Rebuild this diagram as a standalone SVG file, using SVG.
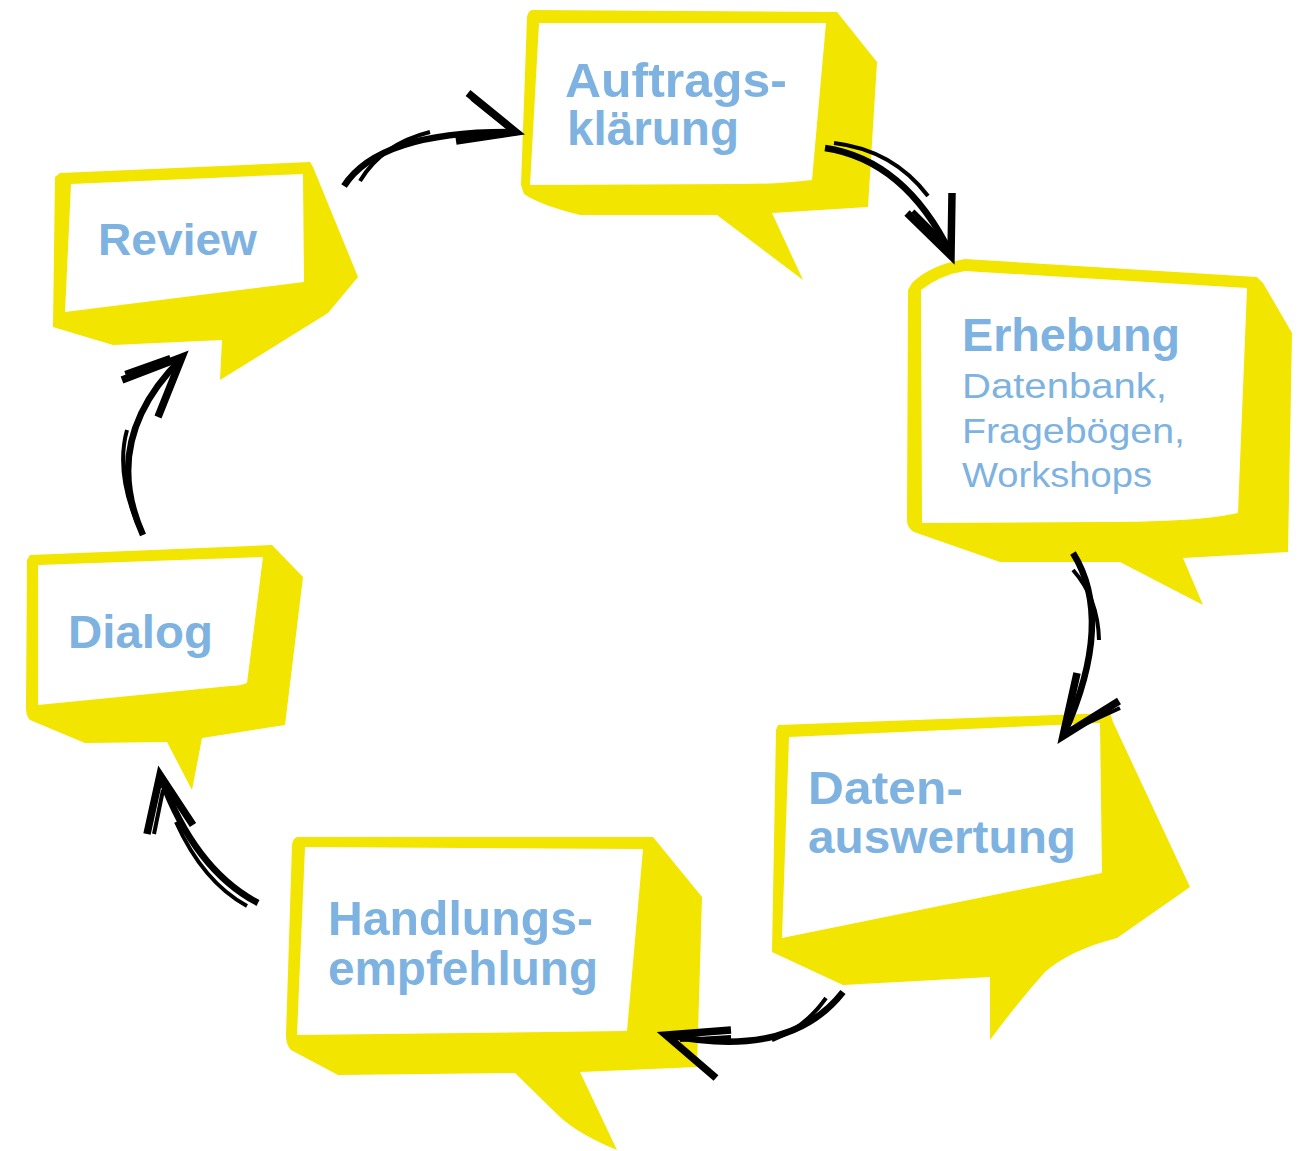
<svg xmlns="http://www.w3.org/2000/svg" width="1307" height="1151" viewBox="0 0 1307 1151">
<style>
.bub{fill:#F2E500}
.win{fill:#ffffff}
.t{font-family:"Liberation Sans",Arial,sans-serif;fill:#7EB2E0;font-weight:bold}
.r{font-weight:normal}
.ln{fill:none;stroke:#000;stroke-width:6.5;stroke-linecap:butt}
.ln2{fill:none;stroke:#000;stroke-width:4}
.hd{fill:none;stroke:#000;stroke-width:7.5;stroke-linejoin:miter;stroke-miterlimit:10}
.hd2{fill:none;stroke:#000;stroke-width:4}
</style>
<rect width="1307" height="1151" fill="#fff"/>
<g id="node-auftrag">
<path class="bub" d="M532,10 L837,12 L841,17 L877,62 L868,207 L772,213 L803,280 L717,215 L580,215 Q540,205 524,194 L521,185 L527,17 Q528,11 532,10 Z"/>
<path class="win" d="M539,23 L826,23 L812,180 Q780,184 740,184 L530,185 Z"/>
<text class="t" font-size="48"><tspan x="565" y="97" textLength="222" lengthAdjust="spacingAndGlyphs">Auftrags-</tspan><tspan x="567" y="145" textLength="172" lengthAdjust="spacingAndGlyphs">klärung</tspan></text>
</g>
<g id="node-erhebung">
<path class="bub" d="M912,283 Q930,265 965,259 L1257,277 L1263,283 L1292,333 L1288,552 L1183,558 L1203,605 L1120,562 L1000,562 L914,532 Q907,528 907,520 L908,290 Z"/>
<path class="win" d="M921,290 Q940,275 965,271 L1247,288 L1238,513 Q1200,522 1100,522 L922,523 Z"/>
<text class="t"><tspan x="962" y="351" font-size="47" textLength="218" lengthAdjust="spacingAndGlyphs">Erhebung</tspan><tspan class="r" x="962" y="398" font-size="35" textLength="205" lengthAdjust="spacingAndGlyphs">Datenbank,</tspan><tspan class="r" x="962" y="443" font-size="35" textLength="223" lengthAdjust="spacingAndGlyphs">Fragebögen,</tspan><tspan class="r" x="962" y="487" font-size="35" textLength="190" lengthAdjust="spacingAndGlyphs">Workshops</tspan></text>
</g>
<g id="node-daten">
<path class="bub" d="M778,725 L1110,713 L1113,722 L1190,887 L1117,938 Q1070,950 1045,972 Q1018,1002 990,1040 L990,977 L843,985 L772,952 L776,730 Z"/>
<path class="win" d="M789,737 L1100,723 L1102,873 L782,938 Z"/>
<text class="t" font-size="47"><tspan x="808" y="804" textLength="155" lengthAdjust="spacingAndGlyphs">Daten-</tspan><tspan x="808" y="853" textLength="268" lengthAdjust="spacingAndGlyphs">auswertung</tspan></text>
</g>
<g id="node-handlung">
<path class="bub" d="M297,837 L653,837 L702,897 L697,1067 L580,1072 L617,1150 Q580,1135 560,1117 L515,1073 L338,1075 L291,1050 Q286,1045 286,1035 L292,845 Q293,838 297,837 Z"/>
<path class="win" d="M305,847 L643,849 L627,1031 L297,1035 Z"/>
<text class="t" font-size="48"><tspan x="328" y="935" textLength="265" lengthAdjust="spacingAndGlyphs">Handlungs-</tspan><tspan x="328" y="985" textLength="270" lengthAdjust="spacingAndGlyphs">empfehlung</tspan></text>
</g>
<g id="node-dialog">
<path class="bub" d="M30,555 L272,545 L303,577 L285,725 L202,738 L192,790 L167,742 L85,743 L30,720 Q26,716 26,708 L27,560 Z"/>
<path class="win" d="M38,565 L263,557 L247,683 Q240,686 230,686 L38,705 Z"/>
<text class="t" x="68" y="648" font-size="46" textLength="145" lengthAdjust="spacingAndGlyphs">Dialog</text>
</g>
<g id="node-review">
<path class="bub" d="M60,173 L310,162 L313,167 L358,277 L328,313 L220,380 L222,340 L113,345 L53,327 L55,177 Z"/>
<path class="win" d="M71,184 L303,174 L304,282 L65,312 Z"/>
<text class="t" x="98" y="255" font-size="45" textLength="159" lengthAdjust="spacingAndGlyphs">Review</text>
</g>
<g id="connectors">
<path class="ln" d="M344,186 Q380,130 517,132"/>
<path class="ln2" d="M360,181 Q382,144 430,132"/>
<path class="hd" d="M468,93 L516,132 L456,141"/>
<path class="hd2" d="M472,99 L508,128"/>
<path class="ln" d="M825,148 Q905,160 951,254"/>
<path class="ln2" d="M834,143 Q893,150 928,196"/>
<path class="hd" d="M907,213 L951,256 L952,193"/>
<path class="hd2" d="M913,211 L945,243"/>
<path class="ln" d="M1073,553 Q1115,620 1064,734"/>
<path class="ln2" d="M1073,570 Q1098,598 1099,640"/>
<path class="hd" d="M1077,673 L1063,736 L1119,701"/>
<path class="hd2" d="M1120,708 L1072,730"/>
<path class="ln" d="M843,992 Q790,1060 668,1035"/>
<path class="ln2" d="M826,998 Q805,1028 772,1040"/>
<path class="hd" d="M731,1030 L666,1035 L716,1078"/>
<path class="hd2" d="M731,1037 L680,1040"/>
<path class="ln" d="M258,903 Q195,870 161,778"/>
<path class="ln2" d="M247,906 Q203,882 176,822"/>
<path class="hd" d="M147,834 L160,775 L193,825"/>
<path class="hd2" d="M154,834 L163,790"/>
<path class="ln" d="M143,535 Q100,440 181,359"/>
<path class="ln2" d="M136,520 Q116,470 127,430"/>
<path class="hd" d="M122,380 L182,357 L158,417"/>
<path class="hd2" d="M125,373 L170,357"/>
</g>
</svg>
